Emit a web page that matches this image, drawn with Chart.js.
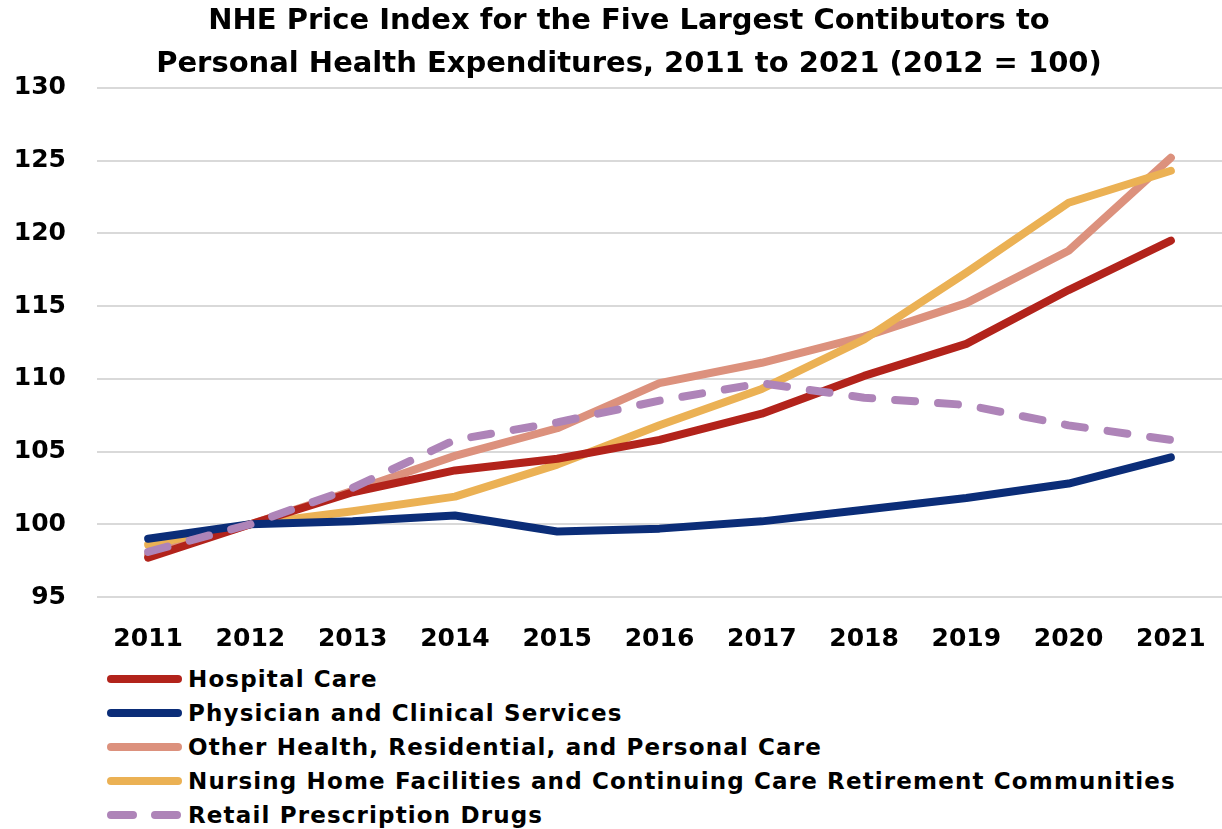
<!DOCTYPE html>
<html>
<head>
<meta charset="utf-8">
<script src="https://cdn.jsdelivr.net/npm/chart.js@4.4.0/dist/chart.umd.min.js"></script>
<style>
  html, body { margin: 0; padding: 0; background: #fff; }
  body { width: 1222px; height: 829px; position: relative; overflow: hidden; font-family: "DejaVu Sans", sans-serif; }
  #wrap { position: absolute; left: 0; top: 0; width: 1222px; height: 660px; }
  #legend { position: absolute; left: 103px; top: 662px; }
  .item { display: flex; align-items: center; height: 34px; font-weight: bold; font-size: 23px; letter-spacing: 1.15px; color: #000; }
  .item svg { margin-right: 1px; }
</style>
</head>
<body>
<div id="wrap"><canvas id="chart"></canvas></div>
<div id="legend"></div>
<script>
// ── NHE price index chart ──
const years = ['2011', '2012', '2013', '2014', '2015', '2016', '2017', '2018', '2019', '2020', '2021'];
const yTicks = [95, 100, 105, 110, 115, 120, 125, 130];

const hospital  = [97.7, 100, 102.2, 103.7, 104.5, 105.8, 107.6, 110.2, 112.4, 116.1, 119.5];
const physician = [99.0, 100, 100.2, 100.6, 99.5, 99.7, 100.2, 101.0, 101.8, 102.8, 104.6];
const otherCare = [97.9, 100, 102.3, 104.7, 106.6, 109.7, 111.1, 112.9, 115.2, 118.8, 125.2];
const nursing   = [98.6, 100, 100.9, 101.9, 104.1, 106.8, 109.3, 112.7, 117.3, 122.1, 124.3];
const drugs     = [98.1, 100, 102.5, 105.8, 107.0, 108.5, 109.7, 108.7, 108.2, 106.8, 105.8];

const series = [
  { label: 'Hospital Care', data: hospital, color: '#b2231b', dash: [] },
  { label: 'Physician and Clinical Services', data: physician, color: '#0b2d78', dash: [] },
  { label: 'Other Health, Residential, and Personal Care', data: otherCare, color: '#dc917d', dash: [] },
  { label: 'Nursing Home Facilities and Continuing Care Retirement Communities', data: nursing, color: '#ebb154', dash: [] },
  { label: 'Retail Prescription Drugs', data: drugs, color: '#ae84b8', dash: [20, 23] },
];

const FONT = '"DejaVu Sans", sans-serif';

// draw order: later datasets on top (drugs dashed on top in the original)
const drawOrder = [2, 3, 0, 1, 4];

// nudge the title box so it is centred a bit right of the canvas, like the original
const titleShift = {
  id: 'titleShift',
  afterLayout(chart) {
    if (chart.titleBlock) chart.titleBlock.left += 24;
  }
};

const chart = new Chart(document.getElementById('chart').getContext('2d'), {
  type: 'line',
  data: {
    labels: years,
    datasets: series.map((s, i) => ({
      label: s.label,
      data: s.data,
      borderColor: s.color,
      backgroundColor: s.color,
      borderWidth: 8,
      borderDash: s.dash,
      borderCapStyle: 'round',
      borderJoinStyle: 'round',
      pointRadius: 0,
      tension: 0,
      order: 10 - drawOrder.indexOf(i),
    }))
  },
  plugins: [titleShift],
  options: {
    responsive: true,
    maintainAspectRatio: false,
    animation: false,
    layout: { padding: { left: 12, right: 0, top: 0, bottom: 0 } },
    plugins: {
      legend: { display: false },
      tooltip: { enabled: false },
      title: {
        display: true,
        text: ['NHE Price Index for the Five Largest Contibutors to', 'Personal Health Expenditures, 2011 to 2021 (2012 = 100)'],
        color: '#000',
        font: { family: FONT, size: 29, weight: 'bold', lineHeight: 1.48 },
        padding: { top: 0, bottom: 2 }
      }
    },
    scales: {
      x: {
        offset: true,
        grid: { display: false, drawTicks: false },
        border: { display: false },
        ticks: { color: '#000', padding: 27, maxRotation: 0, font: { family: FONT, size: 25, weight: 'bold' } },
        afterFit: axis => { axis.paddingLeft = 0; axis.paddingRight = 0; axis.height = 63; }
      },
      y: {
        min: 95,
        max: 130,
        afterBuildTicks: axis => { axis.ticks = yTicks.map(v => ({ value: v })); },
        grid: { color: '#d9d9d9', lineWidth: 2, drawTicks: false },
        border: { display: false },
        ticks: { color: '#000', padding: 31, font: { family: FONT, size: 25, weight: 'bold' } },
        afterFit: axis => { axis.width = 85; }
      }
    }
  }
});

// legend, one item per row
document.getElementById('legend').innerHTML = series.map(s => `
  <div class="item">
    <svg width="84" height="14"><line x1="8" y1="7" x2="75" y2="7" stroke="${s.color}" stroke-width="8" stroke-linecap="round"
      ${s.dash.length ? 'stroke-dasharray="22 22"' : ''}/></svg>${s.label}
  </div>
`).join('');
</script>
</body>
</html>
